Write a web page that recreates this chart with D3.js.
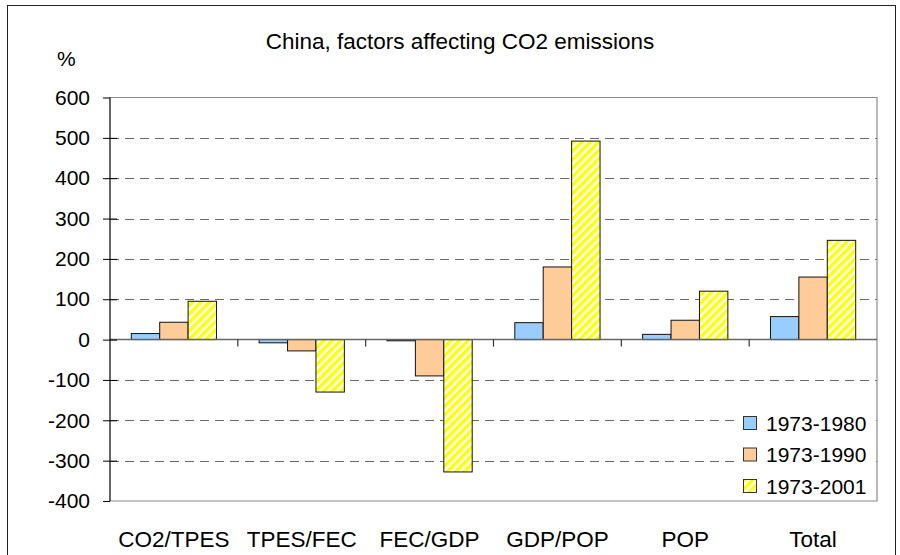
<!DOCTYPE html>
<html>
<head>
<meta charset="utf-8">
<script src="https://cdn.jsdelivr.net/npm/d3@7/dist/d3.min.js"></script>
<style>
html,body{margin:0;padding:0;background:#fff;}
svg{display:block;font-family:"Liberation Sans",Arial,sans-serif;}
</style>
</head>
<body>
<svg id="chart" width="900" height="555"></svg>
<script>
const categories = ["CO2/TPES","TPES/FEC","FEC/GDP","GDP/POP","POP","Total"];
const seriesNames = ["1973-1980","1973-1990","1973-2001"];
const values1980 = [15, -8, -3, 42, 13, 57];
const values1990 = [43, -28, -90, 180, 48, 155];
const values2001 = [95, -130, -328, 492, 120, 246];
const yTicks = [600,500,400,300,200,100,0,-100,-200,-300,-400];
const title = "China, factors affecting CO2 emissions";
const yUnit = "%";

const series = [values1980, values1990, values2001];
const fills = ["#99CCFF","#FFCC99","url(#hatch)"];

const svg = d3.select("#chart");
const defs = svg.append("defs");
const pat = defs.append("pattern").attr("id","hatch").attr("patternUnits","userSpaceOnUse")
  .attr("width",6).attr("height",6).attr("patternTransform","rotate(45)");
pat.append("rect").attr("width",6).attr("height",6).attr("fill","#ffffff");
pat.append("rect").attr("x",0).attr("width",3.4).attr("height",6).attr("fill","#FFFF00");

// outer border
svg.append("rect").attr("x",7.5).attr("y",5.5).attr("width",888).attr("height",560)
  .attr("fill","none").attr("stroke","#222").attr("stroke-width",1);

const L = 110, R = 877, T = 97.5, B = 501;
const x = d3.scaleBand().domain(categories).range([L,R]).paddingInner(0).paddingOuter(0);
const y = d3.scaleLinear().domain([-400,600]).range([B,T]);
const bw = x.bandwidth()/4.5;

// gridlines
svg.append("g").selectAll("line").data(yTicks.filter(v=>v!==600 && v!==-400 && v!==0)).join("line")
  .attr("x1",L).attr("x2",R).attr("y1",d=>Math.round(y(d))+0.5).attr("y2",d=>Math.round(y(d))+0.5)
  .attr("stroke","#6a6a6a").attr("stroke-width",1).attr("stroke-dasharray","9,6");

// plot border (gray)
svg.append("path").attr("d",`M${L},${T}H${R}V${B}H${L}`)
  .attr("fill","none").attr("stroke","#8a8a8a").attr("stroke-width",1.2);

// bars
series.forEach((vals,si)=>{
  svg.append("g").selectAll("rect").data(vals).join("rect")
    .attr("x",(d,i)=>x(categories[i]) + bw*(0.75+si))
    .attr("y",d=>y(Math.max(0,d)))
    .attr("width",bw)
    .attr("height",d=>Math.abs(y(d)-y(0)))
    .attr("fill",fills[si]).attr("stroke","#111").attr("stroke-width",1);
});

// zero axis line
svg.append("line").attr("x1",L).attr("x2",R).attr("y1",y(0)).attr("y2",y(0))
  .attr("stroke","#666").attr("stroke-width",1.5);
// category ticks
svg.append("g").selectAll("line").data(categories.slice(1)).join("line")
  .attr("x1",d=>x(d)).attr("x2",d=>x(d)).attr("y1",y(0)).attr("y2",y(0)+7)
  .attr("stroke","#333").attr("stroke-width",1.2);

// y axis
const yAxis = d3.axisLeft(y).tickValues(yTicks).tickSize(7).tickPadding(13).tickFormat(d=>String(d));
const ga = svg.append("g").attr("transform",`translate(${L},0)`).call(yAxis);
ga.select(".domain").attr("stroke","#000").attr("stroke-width",1.2).attr("d",`M0,${T}V${B}`);
ga.selectAll(".tick line").attr("stroke","#000").attr("x1",-7).attr("x2",d=>(d===600||d===-400)?0:7);
ga.selectAll(".tick text").attr("font-size",21).attr("fill","#000")
  .attr("font-family","'Liberation Sans',Arial,sans-serif");

// category labels
svg.append("g").selectAll("text").data(categories).join("text")
  .attr("x",d=>x(d)+x.bandwidth()/2).attr("y",547).attr("text-anchor","middle")
  .attr("font-size",22.5).attr("fill","#000").text(d=>d);

// title and unit
svg.append("text").attr("x",460).attr("y",49).attr("text-anchor","middle")
  .attr("font-size",22.5).attr("fill","#000").text(title);
svg.append("text").attr("x",57).attr("y",66).attr("font-size",21).attr("fill","#000").text(yUnit);

// legend
const lg = svg.append("g");
lg.append("rect").attr("x",734).attr("y",402).attr("width",142).attr("height",98).attr("fill","#fff");
seriesNames.forEach((n,i)=>{
  const yy = 416 + i*31.5;
  lg.append("rect").attr("x",743.5).attr("y",yy+0.5).attr("width",13).attr("height",13)
    .attr("fill",fills[i]).attr("stroke","#333").attr("stroke-width",1);
  lg.append("text").attr("x",766).attr("y",yy+14.5).attr("font-size",21).attr("fill","#000").text(n);
});
</script>
</body>
</html>
